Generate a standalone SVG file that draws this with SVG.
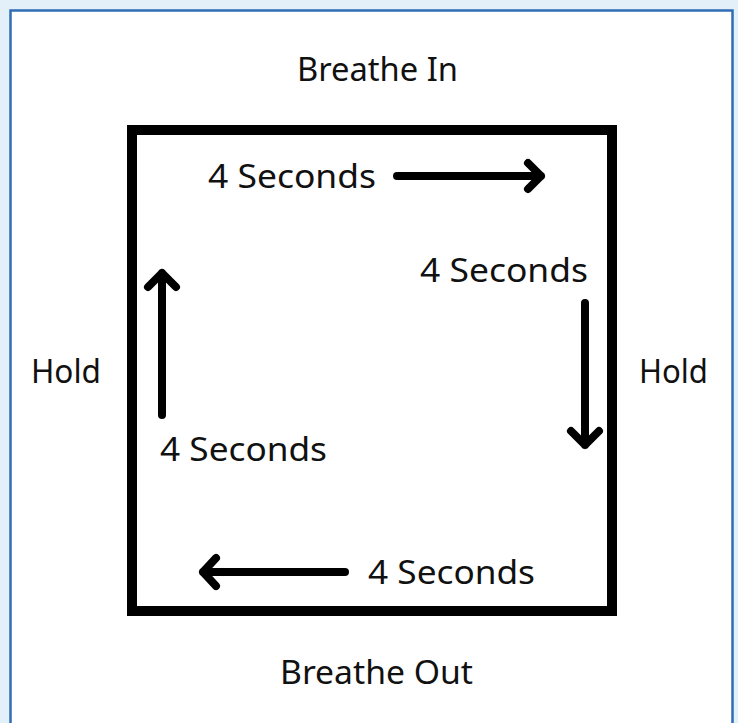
<svg xmlns="http://www.w3.org/2000/svg" width="738" height="723" viewBox="0 0 738 723">
<style>
.t{font-family:"Noto Sans","Liberation Sans",sans-serif;font-size:33px;fill:#111;}
.ar{fill:none;stroke:#000;stroke-width:8;stroke-linecap:round;stroke-linejoin:round;}
</style>
<rect x="0" y="0" width="738" height="723" fill="#e3f0f9"/>
<rect x="10.5" y="10.5" width="722" height="720" fill="#fff" stroke="#2f6db5" stroke-width="2.5"/>
<g id="square"><rect x="132" y="130" width="480" height="481" fill="none" stroke="#000" stroke-width="10"/></g>
<g id="breathe-in"><text class="t" x="297" y="81" textLength="161" lengthAdjust="spacingAndGlyphs">Breathe In</text></g>
<g id="breathe-out"><text class="t" x="280" y="684" textLength="193" lengthAdjust="spacingAndGlyphs">Breathe Out</text></g>
<g id="hold-left"><text class="t" x="31" y="383" textLength="70" lengthAdjust="spacingAndGlyphs">Hold</text></g>
<g id="hold-right"><text class="t" x="639" y="383" textLength="69" lengthAdjust="spacingAndGlyphs">Hold</text></g>
<g id="sec-top"><text class="t" x="208" y="188" textLength="168" lengthAdjust="spacingAndGlyphs">4 Seconds</text></g>
<g id="sec-right"><text class="t" x="420" y="282" textLength="168" lengthAdjust="spacingAndGlyphs">4 Seconds</text></g>
<g id="sec-left"><text class="t" x="160" y="461" textLength="167" lengthAdjust="spacingAndGlyphs">4 Seconds</text></g>
<g id="sec-bottom"><text class="t" x="368" y="584" textLength="167" lengthAdjust="spacingAndGlyphs">4 Seconds</text></g>
<g id="connectors">
<path class="ar" d="M397 176 H541 M528 163 L541 176 L528 189"/>
<path class="ar" d="M585 303 V445 M571 431 L585 445 L599 431"/>
<path class="ar" d="M162 415 V273 M148 287 L162 273 L176 287"/>
<path class="ar" d="M345 572 H203 M216 558 L203 572 L216 586"/>
</g>
</svg>
